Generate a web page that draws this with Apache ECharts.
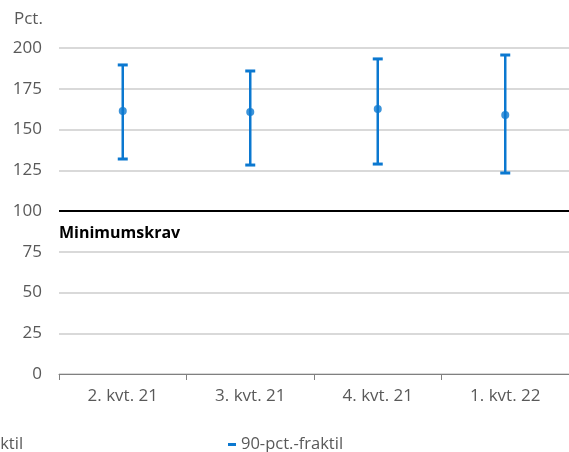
<!DOCTYPE html>
<html>
<head>
<meta charset="utf-8">
<script src="https://cdn.jsdelivr.net/npm/echarts@6/dist/echarts.min.js"></script>
<style>
  html, body { margin: 0; padding: 0; background: #fff; }
  #chart { width: 569px; height: 452px; }
</style>
</head>
<body>
<div id="chart"></div>
<script>
// quarters on the x axis
var categories = ['2. kvt. 21', '3. kvt. 21', '4. kvt. 21', '1. kvt. 22']
// mean, 10th and 90th percentile (pct.)
var meanValues = [161.3, 160.7, 162.6, 158.9]
var lowValues = [131.9, 128.2, 128.8, 123.3]
var highValues = [189.6, 185.9, 193.3, 195.7]
var minimumLevel = 100

var blue = '#0b78d0'
var font = 'Open Sans'
var grey = '#595959'

// half error bar: from the mean to one end, with a cap
function halfBar(ends) {
  return function(params, api) {
    var i = api.value(0)
    var p0 = api.coord([i, meanValues[i]])
    var p1 = api.coord([i, ends[i]])
    var cap = 5
    return {
      type: 'group',
      children: [
        { type: 'line', shape: { x1: p0[0], y1: p0[1], x2: p1[0], y2: p1[1] },
          style: { stroke: blue, lineWidth: 2.5 } },
        { type: 'line', shape: { x1: p1[0] - cap, y1: p1[1], x2: p1[0] + cap, y2: p1[1] },
          style: { stroke: blue, lineWidth: 3 } }
      ]
    }
  }
}

var chart = echarts.init(document.getElementById('chart'))
chart.setOption({
  animation: false,
  textStyle: { fontFamily: font },
  grid: { left: 59, right: 0, top: 48, bottom: 78 },
  legend: [
    {
      data: ['10-pct.-fraktil'], left: -97, top: 431,
      icon: 'rect', itemWidth: 8, itemHeight: 3, itemGap: 4,
      textStyle: { color: grey, fontSize: 16.5, fontFamily: font }
    },
    {
      data: ['90-pct.-fraktil'], left: 223, top: 431,
      icon: 'rect', itemWidth: 8, itemHeight: 3, itemGap: 4,
      textStyle: { color: grey, fontSize: 16.5, fontFamily: font }
    }
  ],
  xAxis: {
    type: 'category',
    data: categories,
    boundaryGap: true,
    axisLine: { lineStyle: { color: '#808080', width: 1 } },
    axisTick: { show: true, length: 6, lineStyle: { color: '#808080' } },
    axisLabel: { color: grey, fontSize: 17, margin: 14 },
    splitLine: { show: false }
  },
  yAxis: {
    type: 'value',
    min: 0,
    max: 200,
    interval: 25,
    name: 'Pct.',
    nameLocation: 'end',
    nameGap: 20,
    nameTextStyle: { color: grey, fontSize: 17, align: 'left', padding: [0, 0, 0, -45] },
    axisLine: { show: false },
    axisTick: { show: false },
    axisLabel: { color: grey, fontSize: 17, margin: 17 },
    splitLine: { lineStyle: { color: '#d9d9d9', width: 2 } }
  },
  series: [
    {
      name: '10-pct.-fraktil',
      type: 'custom',
      color: blue,
      renderItem: halfBar(lowValues),
      data: categories.map(function(c, i) { return [i] }),
      encode: { x: 0 },
      z: 3
    },
    {
      name: '90-pct.-fraktil',
      type: 'custom',
      color: blue,
      renderItem: halfBar(highValues),
      data: categories.map(function(c, i) { return [i] }),
      encode: { x: 0 },
      z: 3
    },
    {
      name: 'Gennemsnit',
      type: 'scatter',
      data: meanValues,
      symbol: 'circle',
      symbolSize: 8,
      itemStyle: { color: blue },
      z: 4,
      markLine: {
        silent: true,
        symbol: 'none',
        data: [{ yAxis: minimumLevel }],
        lineStyle: { color: '#000', width: 2, type: 'solid' },
        label: {
          show: true,
          position: 'insideStartBottom',
          formatter: 'Minimumskrav',
          color: '#000',
          fontWeight: 'bold',
          fontSize: 16,
          fontFamily: font,
          distance: [0, 14]
        }
      }
    }
  ]
})
</script>
</body>
</html>
